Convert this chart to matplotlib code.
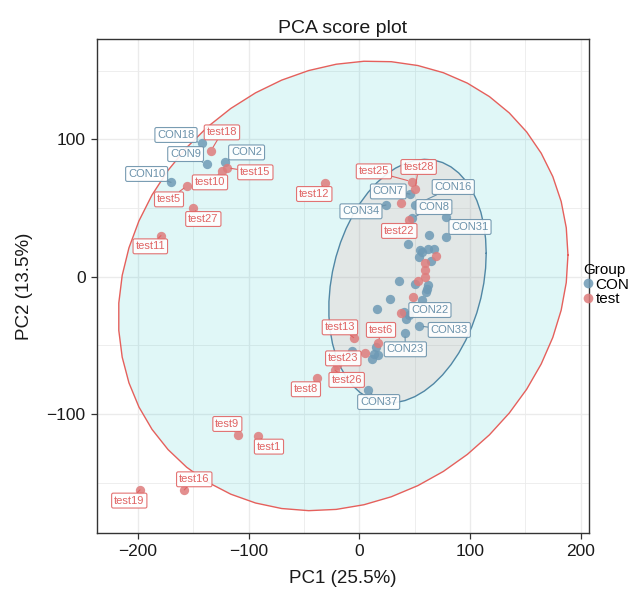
import numpy as np
import matplotlib
matplotlib.use("Agg")
import matplotlib.pyplot as plt
from matplotlib.lines import Line2D
from matplotlib.ticker import MultipleLocator

plt.rcParams['font.family'] = ['Liberation Sans', 'DejaVu Sans']

# PCA scores, CON group
con_names = ["CON18", "CON9", "CON2", "CON10", "CON7", "CON34", "CON16", "CON8",
             "CON31", "CON22", "CON33", "CON23", "CON37",
             "CON1", "CON3", "CON4", "CON5", "CON6", "CON11", "CON12", "CON13",
             "CON14", "CON15", "CON17", "CON19", "CON20", "CON21", "CON24",
             "CON25", "CON26", "CON27", "CON28", "CON29",
             "CON30", "CON32", "CON35", "CON36"]
con_pc1 = [-142.4, -137.9, -121.4, -170.1, 45.8, 24.1, 50.3, 47.3,
           78.3, 42.2, 54.2, 41.3, 8.1,
           78.3, 63.2, 44.3, 54.8, 62.3, 67.4, 54.2, 64.4,
           36.1, 50.3, 62.0, 60.2, 56.3, 27.7, 15.7,
           40.3, 15.1, 17.2, 11.1, -6.3,
           57.0, 61.5, 45.0, 13.0]
con_pc2 = [97.1, 82.0, 83.7, 68.7, 60.2, 52.2, 52.2, 42.5,
           43.2, -31.1, -35.9, -40.8, -82.5,
           29.1, 30.3, 23.8, 19.4, 20.1, 20.1, 14.1, 11.7,
           -2.9, -5.3, -6.1, -11.1, -17.0, -16.5, -23.8,
           -25.7, -51.5, -57.0, -60.2, -53.9,
           18.0, -9.0, -28.0, -56.0]

# PCA scores, test group
test_names = ["test18", "test15", "test10", "test5", "test27", "test11", "test12",
              "test25", "test28", "test22", "test13", "test6", "test23", "test26",
              "test8", "test9", "test1", "test16", "test19",
              "test2", "test3", "test4", "test7", "test14", "test17", "test20",
              "test21", "test24"]
test_pc1 = [-134.0, -119.8, -124.4, -155.4, -150.6, -179.2, -30.7,
            47.3, 50.3, 44.9, -5.1, 17.2, -19.9, -22.0,
            -37.9, -109.9, -91.2, -158.1, -198.1,
            37.6, 69.3, 59.3, 59.3, 59.3, 53.3, 48.8,
            37.3, 5.1]
test_pc2 = [91.7, 79.4, 76.9, 66.3, 50.2, 29.9, 68.4,
            69.2, 63.6, 41.3, -44.4, -48.1, -64.6, -68.0,
            -74.0, -115.3, -115.8, -155.3, -155.3,
            53.4, 15.0, 10.2, 4.9, 0.0, -2.9, -14.6,
            -26.2, -55.3]

# where the repelled labels end up (data units)
label_pos = {
    "CON18": (-165.6, 103.2), "CON9": (-156.9, 89.3), "CON2": (-101.8, 90.5),
    "CON10": (-192.1, 74.8), "CON7": (26.2, 62.1), "CON34": (1.5, 47.6),
    "CON16": (84.9, 65.3), "CON8": (67.4, 50.7), "CON31": (100.0, 36.2),
    "CON22": (63.8, -24.3), "CON33": (81.3, -38.8), "CON23": (41.6, -52.9),
    "CON37": (17.5, -91.3),
    "test18": (-124.1, 105.1), "test15": (-93.9, 76.0), "test10": (-134.9, 68.7),
    "test5": (-171.9, 56.3), "test27": (-140.9, 42.0), "test11": (-188.8, 22.1),
    "test12": (-40.7, 60.2), "test25": (13.2, 76.7), "test28": (53.6, 79.9),
    "test22": (36.1, 33.3), "test13": (-17.5, -36.9), "test6": (19.6, -38.8),
    "test23": (-14.5, -59.5), "test26": (-11.4, -75.2), "test8": (-48.2, -82.0),
    "test9": (-119.2, -107.3), "test1": (-81.6, -123.8), "test16": (-149.1, -147.6),
    "test19": (-207.8, -163.1),
}

con_pt = "#6E9AB5"
test_pt = "#DE7C7C"
con_edge = "#5087A5"
test_edge = "#E5605C"


def cov_trob(x, nu=5, maxit=25, tol=0.01):
    # multivariate t robust location/scatter (as MASS::cov.trob)
    n, p = x.shape
    loc = x.mean(axis=0)
    w = np.ones(n)
    for _ in range(maxit):
        w0 = w
        X = x - loc
        _, d, vt = np.linalg.svd(np.sqrt(w / w.sum())[:, None] * X, full_matrices=False)
        wX = X @ vt.T @ np.diag(1.0 / d)
        Q = (wX ** 2).sum(axis=1)
        w = (nu + p) / (nu + Q)
        loc = (w[:, None] * x).sum(axis=0) / w.sum()
        if np.all(np.abs(w - w0) < tol):
            break
    sX = np.sqrt(w)[:, None] * X
    return loc, sX.T @ sX / n


def t_ellipse(xs, ys, level=0.95, segments=51):
    pts = np.column_stack([xs, ys])
    center, shape = cov_trob(pts)
    dfd = len(xs) - 1
    fq = dfd / 2.0 * ((1 - level) ** (-2.0 / dfd) - 1)  # F(2, dfd) quantile
    radius = np.sqrt(2 * fq)
    ang = np.linspace(0, 2 * np.pi, segments + 1)
    circle = np.column_stack([np.cos(ang), np.sin(ang)])
    L = np.linalg.cholesky(shape)
    return center + radius * circle @ L.T


fig = plt.figure(figsize=(6.38, 5.93), dpi=100)
ax = fig.add_axes([0.1516, 0.1012, 0.7716, 0.8330])

ax.set_xlim(-237.2, 207.5)
ax.set_ylim(-186.7, 173.1)
ax.xaxis.set_major_locator(MultipleLocator(100))
ax.yaxis.set_major_locator(MultipleLocator(100))
ax.xaxis.set_minor_locator(MultipleLocator(50))
ax.yaxis.set_minor_locator(MultipleLocator(50))
ax.grid(True, which='major', color='#EBEBEB', lw=1.0, zorder=0)
ax.grid(True, which='minor', color='#EBEBEB', lw=0.6, zorder=0)
ax.set_axisbelow(True)
ax.tick_params(which='minor', length=0)
ax.tick_params(which='major', direction='out', length=4, width=0.9,
               color='#333333', labelsize=12.5, labelcolor='#1A1A1A', pad=4)
for s in ax.spines.values():
    s.set_color('#333333')
    s.set_linewidth(1.0)

# confidence ellipses
ell_test = t_ellipse(test_pc1, test_pc2)
ell_con = t_ellipse(con_pc1, con_pc2)
ax.fill(ell_test[:, 0], ell_test[:, 1], color='#00BFC4', alpha=0.12, lw=0, zorder=1)
ax.plot(ell_test[:, 0], ell_test[:, 1], color=test_edge, lw=1.0, zorder=2)
ax.fill(ell_con[:, 0], ell_con[:, 1], color='#F8766D', alpha=0.12, lw=0, zorder=1)
ax.plot(ell_con[:, 0], ell_con[:, 1], color=con_edge, lw=1.0, zorder=2)

ax.scatter(con_pc1, con_pc2, s=45, color=con_pt, alpha=0.85, lw=0, zorder=3)
ax.scatter(test_pc1, test_pc2, s=45, color=test_pt, alpha=0.85, lw=0, zorder=3)

# sample labels with leader segments
def add_labels(names, xs, ys, col):
    for nm, px, py in zip(names, xs, ys):
        if nm not in label_pos:
            continue
        lx, ly = label_pos[nm]
        ax.annotate(nm, xy=(px, py), xytext=(lx, ly), fontsize=8, color=col,
                    ha='center', va='center', zorder=5,
                    bbox=dict(boxstyle='round,pad=0.22,rounding_size=0.15',
                              fc='white', ec=col, lw=0.8, alpha=0.9),
                    arrowprops=dict(arrowstyle='-', color=col, lw=0.8,
                                    shrinkA=0, shrinkB=3))

add_labels(con_names, con_pc1, con_pc2, '#6A91AA')
add_labels(test_names, test_pc1, test_pc2, '#E06464')

ax.set_title("PCA score plot", fontsize=14, color='#1A1A1A', pad=4)
ax.set_xlabel("PC1 (25.5%)", fontsize=13.5, color='#1A1A1A', labelpad=8)
ax.set_ylabel("PC2 (13.5%)", fontsize=13.5, color='#1A1A1A', labelpad=10)

handles = [Line2D([], [], ls='', marker='o', ms=7, mfc=con_pt, mec='none', alpha=0.85),
           Line2D([], [], ls='', marker='o', ms=7, mfc=test_pt, mec='none', alpha=0.85)]
leg = fig.legend(handles, ["CON", "test"], title="Group", loc='upper left',
                 bbox_to_anchor=(0.905, 0.567), frameon=False, fontsize=11,
                 title_fontsize=11, handlelength=0.6, handletextpad=0.2,
                 labelspacing=0.05, borderaxespad=0)
leg._legend_box.align = 'left'

fig.savefig("out.png", dpi=100)
